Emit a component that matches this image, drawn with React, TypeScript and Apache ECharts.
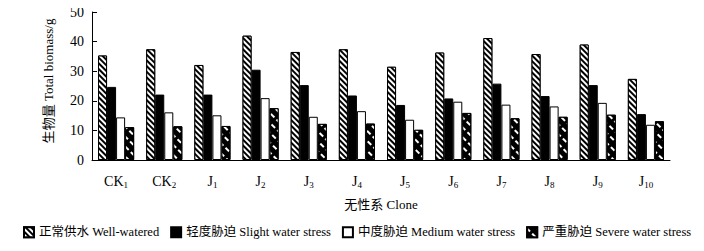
import React, { useEffect, useRef } from "react";
import * as echarts from "echarts";

const categories = ["CK|1", "CK|2", "J|1", "J|2", "J|3", "J|4", "J|5", "J|6", "J|7", "J|8", "J|9", "J|10"];
const seriesNames = [
  "正常供水 Well-watered",
  "轻度胁迫 Slight water stress",
  "中度胁迫 Medium water stress",
  "严重胁迫 Severe water stress",
];
const wellWatered = [35.3, 37.4, 32.1, 42.0, 36.5, 37.4, 31.5, 36.3, 41.2, 35.8, 39.0, 27.4];
const slightStress = [24.7, 22.1, 22.1, 30.5, 25.3, 21.8, 18.6, 20.8, 25.8, 21.6, 25.3, 15.5];
const mediumStress = [14.4, 16.1, 15.1, 20.9, 14.6, 16.5, 13.6, 19.7, 18.7, 18.1, 19.3, 11.9];
const severeStress = [11.1, 11.4, 11.5, 17.5, 12.2, 12.3, 10.2, 15.9, 14.1, 14.6, 15.3, 13.1];
const yTicks = { min: 0, max: 50, interval: 10 };

const SERIF = "Liberation Serif, Times New Roman, Noto Sans CJK SC, serif";

export default function App() {
  const ref = useRef<HTMLDivElement>(null);
  useEffect(() => {
    if (!ref.current) return;
    const chart = echarts.init(ref.current, undefined, { renderer: "svg" });
    const base = {
      type: "bar",
      barGap: "0%",
      barCategoryGap: "25%",
    };
    chart.setOption({
      animation: false,
      backgroundColor: "#fff",
      textStyle: { fontFamily: SERIF, color: "#000" },
      grid: { left: 92, right: 34, top: 12, bottom: 91 },
      legend: {
        left: 18,
        top: 221,
        itemWidth: 10,
        itemHeight: 10,
        itemGap: 11,
        icon: "rect",
        textStyle: { fontFamily: SERIF, fontSize: 12.5, color: "#000" },
        data: seriesNames,
      },
      xAxis: {
        type: "category",
        data: categories,
        name: "无性系 Clone",
        nameLocation: "middle",
        nameGap: 38,
        nameTextStyle: { fontFamily: SERIF, fontSize: 13, color: "#000" },
        axisLine: { lineStyle: { color: "#000", width: 1 } },
        axisTick: { inside: true, length: 3, lineStyle: { color: "#000" } },
        axisLabel: {
          interval: 0,
          margin: 14,
          color: "#000",
          formatter: (v: string) => {
            const [a, b] = v.split("|");
            return `{m|${a}}{s|${b}}`;
          },
          rich: {
            m: { fontFamily: SERIF, fontSize: 14, color: "#000" },
            s: { fontFamily: SERIF, fontSize: 9, color: "#000", verticalAlign: "bottom", padding: [6, 0, 0, 0] },
          },
        },
      },
      yAxis: {
        type: "value",
        min: yTicks.min,
        max: yTicks.max,
        interval: yTicks.interval,
        name: "生物量 Total biomass/g",
        nameLocation: "middle",
        nameRotate: 90,
        nameGap: 37,
        nameTextStyle: { fontFamily: SERIF, fontSize: 13, color: "#000", padding: [0, 0, 0, 10] },
        axisLine: { show: true, lineStyle: { color: "#000", width: 1 } },
        axisTick: { show: true, inside: true, length: 5, lineStyle: { color: "#000" } },
        axisLabel: { fontFamily: SERIF, fontSize: 14, color: "#000", margin: 8 },
        splitLine: { show: false },
      },
      series: [
        {
          ...base,
          name: seriesNames[0],
          data: wellWatered,
          itemStyle: {
            color: "#000",
            borderColor: "#000",
            borderWidth: 1,
            decal: {
              symbol: "rect",
              symbolSize: 1,
              color: "#fff",
              dashArrayX: [1, 0],
              dashArrayY: [1.6, 1.6],
              rotation: Math.PI / 4,
            },
          },
        },
        {
          ...base,
          name: seriesNames[1],
          data: slightStress,
          itemStyle: { color: "#000", borderColor: "#000", borderWidth: 1 },
        },
        {
          ...base,
          name: seriesNames[2],
          data: mediumStress,
          itemStyle: { color: "#fff", borderColor: "#000", borderWidth: 1 },
        },
        {
          ...base,
          name: seriesNames[3],
          data: severeStress,
          itemStyle: {
            color: "#000",
            borderColor: "#000",
            borderWidth: 1,
            decal: {
              symbol: "rect",
              symbolSize: 1,
              color: "#fff",
              dashArrayX: [[5, 3]],
              dashArrayY: [2, 5],
              rotation: Math.PI / 4,
            },
          },
        },
      ],
    });
    return () => chart.dispose();
  }, []);
  return <div ref={ref} style={{ width: 704, height: 251, marginLeft: -8, marginTop: -8 }} />;
}
